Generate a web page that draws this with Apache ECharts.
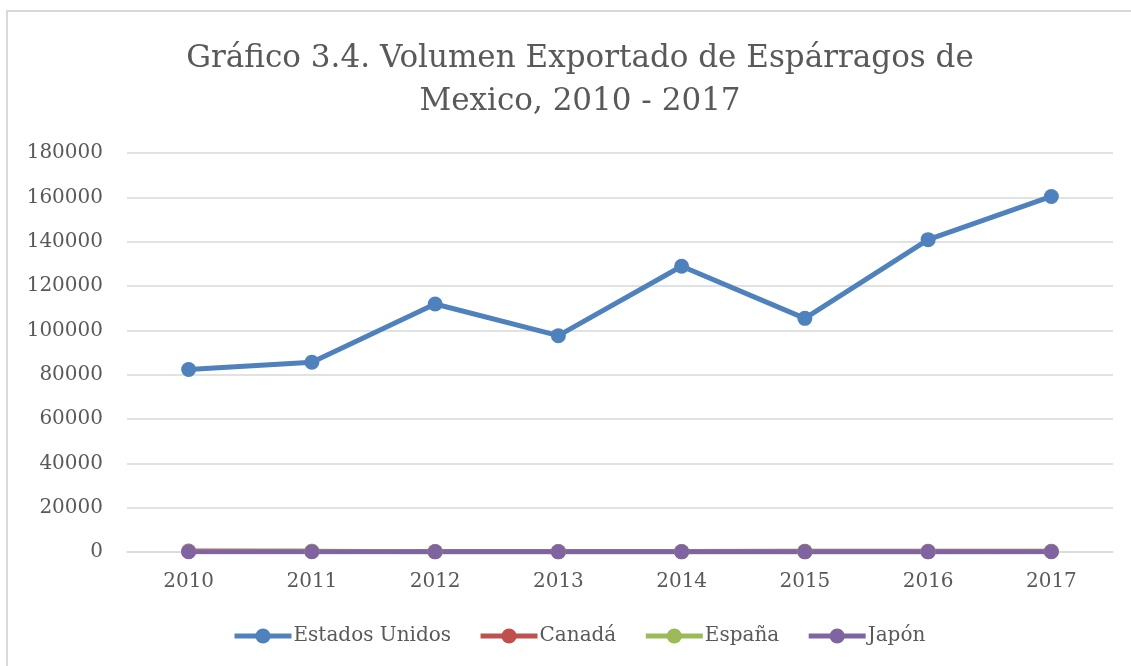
<!DOCTYPE html>
<html>
<head>
	<meta charset="utf-8">
	<title>echarts</title>
	<script type="text/javascript" src="https://cdn.jsdelivr.net/npm/echarts@6/dist/echarts.min.js"></script>
	<style>html,body{margin:0;padding:0;background:#fff;}</style>
</head>
<body>
	<div id="mychar" style="width: 1131px;height:666px;"></div>

	<script type="text/javascript">
		var years = ['2010', '2011', '2012', '2013', '2014', '2015', '2016', '2017'];
		var estadosUnidos = [82300, 85600, 111900, 97600, 128900, 105400, 140900, 160400];
		var canada = [400, 300, 250, 200, 250, 300, 300, 350];
		var espana = [200, 350, 150, 150, 100, 150, 150, 200];
		var japon = [100, 100, 80, 80, 60, 80, 80, 100];

		var fuente = 'DejaVu Serif';
		var gris = '#595959';

		function serie(nombre, datos, color) {
			return {
				name: nombre,
				type: 'line',
				data: datos,
				symbol: 'circle',
				symbolSize: 15,
				itemStyle: {color: color},
				lineStyle: {color: color, width: 5},
				emphasis: {disabled: true}
			};
		}

		var mychar = echarts.init(document.getElementById("mychar"));
		var option = {
			animation: false,
			graphic: [{
				type: 'rect',
				shape: {x: 7, y: 11, width: 1200, height: 800},
				style: {fill: 'none', stroke: '#d9d9d9', lineWidth: 2}
			}],
			title: {
				text: 'Gráfico 3.4. Volumen Exportado de Espárragos de\nMexico, 2010 - 2017',
				left: 575,
				textAlign: 'center',
				top: 32,
				textStyle: {
					fontFamily: fuente,
					fontSize: 31,
					fontWeight: 'normal',
					color: gris,
					lineHeight: 43
				}
			},
			legend: {
				bottom: 15,
				left: 227,
				itemWidth: 57,
				itemHeight: 19,
				itemGap: 27,
				lineStyle: {width: 5},
				textStyle: {fontFamily: fuente, fontSize: 20, color: gris, padding: [0, 0, 0, -3]},
				data: ['Estados Unidos', 'Canadá', 'España', 'Japón']
			},
			grid: {
				left: 127,
				right: 18,
				top: 153,
				bottom: 114,
				outerBoundsMode: 'none'
			},
			xAxis: {
				type: 'category',
				data: years,
				axisLine: {lineStyle: {color: '#d9d9d9', width: 1.5}},
				axisTick: {show: false},
				axisLabel: {fontFamily: fuente, fontSize: 20, color: gris, margin: 20}
			},
			yAxis: {
				type: 'value',
				min: 0,
				max: 180000,
				interval: 20000,
				axisLine: {show: false},
				axisTick: {show: false},
				splitLine: {lineStyle: {color: '#d9d9d9', width: 1.5}},
				axisLabel: {
					fontFamily: fuente,
					fontSize: 20,
					color: gris,
					margin: 24,
					formatter: function (v) { return String(v); }
				}
			},
			series: [
				serie('Estados Unidos', estadosUnidos, '#4f81bd'),
				serie('Canadá', canada, '#c0504d'),
				serie('España', espana, '#9bbb59'),
				serie('Japón', japon, '#8064a2')
			]
		};

		mychar.setOption(option);
	</script>
</body>
</html>
